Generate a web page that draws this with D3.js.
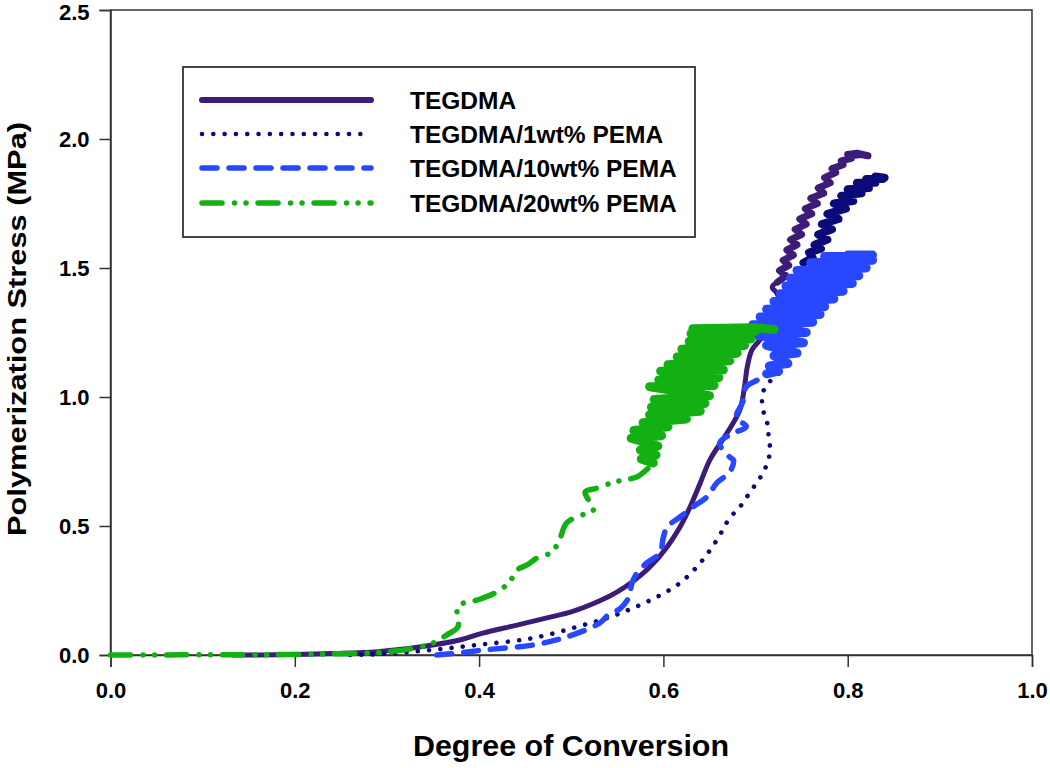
<!DOCTYPE html>
<html><head><meta charset="utf-8">
<script src="https://cdn.jsdelivr.net/npm/d3@7"></script>
<style>
body{margin:0;background:#fff;}
svg{display:block;}
text{font-family:Arial,"Liberation Sans",sans-serif;font-weight:bold;fill:#000;}
</style>
</head><body>
<svg id="chart" width="1050" height="768"></svg>
<script>
// ---------- data ----------
const xTicks = [0, 0.2, 0.4, 0.6, 0.8, 1.0];
const yTicks = [0, 0.5, 1.0, 1.5, 2.0, 2.5];
const seriesNames = ["TEGDMA", "TEGDMA/1wt% PEMA", "TEGDMA/10wt% PEMA", "TEGDMA/20wt% PEMA"];
const xLabel = "Degree of Conversion";
const yLabel = "Polymerization Stress (MPa)";

// TEGDMA (solid)
const tegdmaMain = [[0.133,0],[0.18,0.001],[0.241,0.006],[0.29,0.013],[0.333,0.03],[0.379,0.058],[0.404,0.085],[0.44,0.115],[0.477,0.147],[0.5,0.167],[0.531,0.21],[0.55,0.245],[0.565,0.28],[0.585,0.34],[0.604,0.419],[0.618,0.496],[0.629,0.574],[0.64,0.667],[0.651,0.76],[0.669,0.86],[0.683,0.95],[0.688,1.039],[0.691,1.116],[0.696,1.182],[0.707,1.233],[0.708,1.26],[0.712,1.306],[0.721,1.326],[0.727,1.357],[0.723,1.403],[0.718,1.426],[0.724,1.446]];
const tegdmaNoisy = [[0.724,1.446],[0.733,1.47],[0.726,1.49],[0.736,1.51],[0.73,1.53],[0.741,1.55],[0.734,1.57],[0.745,1.59],[0.738,1.61],[0.75,1.63],[0.743,1.65],[0.755,1.67],[0.748,1.69],[0.761,1.71],[0.754,1.73],[0.767,1.75],[0.76,1.77],[0.774,1.79],[0.768,1.81],[0.781,1.83],[0.775,1.85],[0.787,1.87],[0.783,1.885],[0.795,1.9],[0.793,1.915],[0.804,1.925],[0.803,1.935],[0.815,1.94],[0.822,1.935],[0.81,1.945],[0.8,1.94]];

// TEGDMA/1wt% PEMA (dotted)
const pema1Main = [[0.26,0],[0.3,0.005],[0.347,0.019],[0.398,0.039],[0.459,0.066],[0.513,0.116],[0.542,0.147],[0.567,0.182],[0.593,0.225],[0.618,0.279],[0.64,0.357],[0.658,0.446],[0.672,0.531],[0.683,0.574],[0.692,0.62],[0.701,0.667],[0.708,0.705],[0.713,0.748],[0.716,0.795],[0.714,0.841],[0.714,0.884],[0.71,0.922],[0.708,0.961],[0.707,1.008],[0.714,1.054],[0.727,1.097],[0.735,1.136],[0.737,1.182],[0.74,1.24],[0.735,1.3],[0.73,1.357],[0.745,1.407],[0.748,1.47],[0.752,1.52]];
const pema1Noisy = [[0.752,1.52],[0.762,1.54],[0.758,1.56],[0.771,1.575],[0.764,1.59],[0.778,1.61],[0.768,1.63],[0.783,1.65],[0.772,1.67],[0.79,1.69],[0.778,1.71],[0.798,1.73],[0.785,1.75],[0.806,1.76],[0.793,1.78],[0.815,1.79],[0.8,1.805],[0.823,1.81],[0.81,1.83],[0.83,1.83],[0.82,1.845],[0.838,1.845],[0.83,1.855],[0.84,1.85]];

// TEGDMA/10wt% PEMA (dashed)
const pema10Main = [[0.354,0],[0.379,0.008],[0.404,0.019],[0.459,0.039],[0.495,0.07],[0.531,0.124],[0.54,0.155],[0.553,0.18],[0.562,0.22],[0.566,0.28],[0.57,0.31],[0.582,0.357],[0.596,0.395],[0.6,0.457],[0.604,0.496],[0.618,0.535],[0.632,0.574],[0.647,0.612],[0.658,0.667],[0.672,0.709],[0.676,0.756],[0.672,0.767],[0.661,0.822],[0.676,0.86],[0.69,0.885],[0.679,0.92],[0.686,0.98],[0.69,1.04],[0.704,1.07],[0.714,1.1]];
const pema10Noisy = [[0.712,1.09],[0.725,1.1],[0.715,1.12],[0.735,1.13],[0.72,1.16],[0.745,1.17],[0.712,1.2],[0.752,1.21],[0.7,1.24],[0.755,1.25],[0.697,1.28],[0.762,1.29],[0.705,1.31],[0.77,1.32],[0.712,1.34],[0.775,1.35],[0.72,1.37],[0.785,1.38],[0.727,1.4],[0.795,1.41],[0.733,1.43],[0.805,1.44],[0.738,1.46],[0.812,1.47],[0.745,1.49],[0.82,1.5],[0.76,1.52],[0.827,1.53],[0.775,1.545],[0.827,1.55],[0.8,1.55]];

// TEGDMA/20wt% PEMA (dash-dot-dot)
const pema20Main = [[0,0],[0.05,0],[0.1,0.001],[0.15,0.001],[0.2,0.002],[0.25,0.005],[0.3,0.012],[0.336,0.031],[0.35,0.047],[0.365,0.078],[0.377,0.109],[0.376,0.167],[0.379,0.194],[0.398,0.213],[0.419,0.244],[0.433,0.283],[0.441,0.329],[0.452,0.349],[0.463,0.376],[0.477,0.395],[0.486,0.434],[0.495,0.512],[0.512,0.543],[0.524,0.562],[0.517,0.612],[0.515,0.632],[0.528,0.647],[0.544,0.667],[0.556,0.678],[0.571,0.69],[0.585,0.729],[0.589,0.744]];
const pema20Noisy = [[0.589,0.744],[0.576,0.76],[0.592,0.775],[0.575,0.795],[0.594,0.81],[0.565,0.84],[0.598,0.85],[0.568,0.87],[0.605,0.885],[0.578,0.9],[0.625,0.915],[0.585,0.93],[0.64,0.945],[0.587,0.96],[0.645,0.975],[0.59,0.99],[0.65,1.005],[0.585,1.04],[0.655,1.045],[0.595,1.065],[0.66,1.075],[0.597,1.1],[0.665,1.105],[0.605,1.125],[0.672,1.14],[0.615,1.155],[0.68,1.17],[0.62,1.185],[0.688,1.2],[0.628,1.215],[0.695,1.225],[0.63,1.245],[0.7,1.255],[0.632,1.265],[0.7,1.268],[0.72,1.262]];

// ---------- styles ----------
const colors = ["#3d1c78", "#0a0a78", "#2848ff", "#12b012"];
const dashes = [null, "0.01,11.3", "15,12", "20,12.5,0.01,11.5,0.01,12"];
const widths = [5, 4.6, 5.5, 5.5];
const noisyWidths = [7, 8, 9, 9];

// ---------- chart ----------
const svg = d3.select("#chart");
const L = 110.5, R = 1032, T = 10, B = 655;
const x = d3.scaleLinear().domain([0, 1]).range([L, R]);
const y = d3.scaleLinear().domain([0, 2.5]).range([B, T]);

const g = svg.append("g");

// frame
g.append("rect").attr("x", L).attr("y", T).attr("width", R - L).attr("height", B - T)
  .attr("fill", "none").attr("stroke", "#333").attr("stroke-width", 1.5);

// axes
const xAxis = g.append("g").attr("transform", `translate(0,${B})`)
  .call(d3.axisBottom(x).tickValues(xTicks).tickSize(12).tickPadding(15).tickFormat(d3.format(".1f")));
const yAxis = g.append("g").attr("transform", `translate(${L},0)`)
  .call(d3.axisLeft(y).tickValues(yTicks).tickSize(11).tickPadding(10).tickFormat(d3.format(".1f")));
[xAxis, yAxis].forEach(a => {
  a.select(".domain").attr("stroke", "#333").attr("stroke-width", 1.5);
  a.selectAll(".tick line").attr("stroke", "#333").attr("stroke-width", 1.5);
  a.selectAll(".tick text").style("font-family", "Arial,'Liberation Sans',sans-serif")
    .style("font-weight", "bold").style("font-size", "22px").attr("fill", "#000");
});
yAxis.selectAll(".tick text").filter(d => d === 2.5).attr("dy", "0.42em");

// lines
const smooth = d3.line().x(d => x(d[0])).y(d => y(d[1])).curve(d3.curveCatmullRom.alpha(0.5));
const straight = d3.line().x(d => x(d[0])).y(d => y(d[1]));
const mains = [tegdmaMain, pema1Main, pema10Main, pema20Main];
const noisies = [tegdmaNoisy, pema1Noisy, pema10Noisy, pema20Noisy];
const plot = g.append("g");
mains.forEach((data, i) => {
  plot.append("path").attr("d", straight(noisies[i])).attr("fill", "none")
    .attr("stroke", colors[i]).attr("stroke-width", noisyWidths[i]).attr("stroke-linecap", "round").attr("stroke-linejoin", "round");
  const p = plot.append("path").attr("d", smooth(data)).attr("fill", "none")
    .attr("stroke", colors[i]).attr("stroke-width", widths[i]).attr("stroke-linecap", "round").attr("stroke-linejoin", "round");
  if (dashes[i]) p.attr("stroke-dasharray", dashes[i]);
});

// legend
const lg = g.append("g");
lg.append("rect").attr("x", 183).attr("y", 67).attr("width", 512).attr("height", 170)
  .attr("fill", "#fff").attr("stroke", "#333").attr("stroke-width", 1.8);
const rowY = [100, 134, 168, 203];
seriesNames.forEach((name, i) => {
  const l = lg.append("line").attr("x1", 202).attr("x2", 371).attr("y1", rowY[i]).attr("y2", rowY[i])
    .attr("stroke", colors[i]).attr("stroke-width", i === 0 ? 6 : widths[i]).attr("stroke-linecap", "round");
  if (dashes[i]) l.attr("stroke-dasharray", dashes[i]);
  lg.append("text").attr("x", 410).attr("y", rowY[i] + 8.5).style("font-size", "24.5px").text(name);
});

// axis titles
g.append("text").attr("x", 571).attr("y", 756).attr("text-anchor", "middle")
  .attr("textLength", 316).attr("lengthAdjust", "spacingAndGlyphs")
  .style("font-size", "29px").text(xLabel);
g.append("text").attr("transform", `translate(26,329) rotate(-90)`).attr("text-anchor", "middle")
  .attr("textLength", 414).attr("lengthAdjust", "spacingAndGlyphs")
  .style("font-size", "26px").text(yLabel);
</script>
</body></html>
